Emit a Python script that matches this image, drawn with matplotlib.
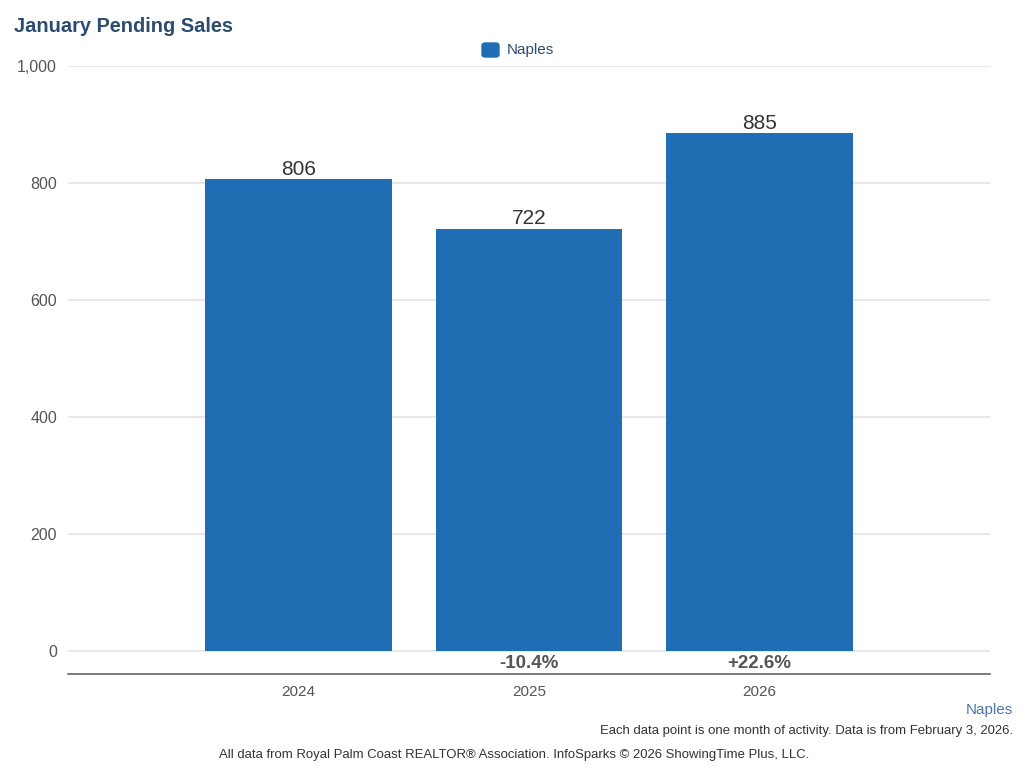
import matplotlib
matplotlib.use("Agg")
import matplotlib.pyplot as plt
from matplotlib.patches import FancyBboxPatch

plt.rcParams['font.family'] = ['Liberation Sans', 'DejaVu Sans']

years = ["2024", "2025", "2026"]
values = [806, 722, 885]
changes = ["", "-10.4%", "+22.6%"]
yticks = [0, 200, 400, 600, 800, 1000]
ytick_labels = ["0", "200", "400", "600", "800", "1,000"]

W, H = 1024, 778
fig = plt.figure(figsize=(W / 100, H / 100), dpi=100)
ax = fig.add_axes([68 / W, (H - 674) / H, (990 - 68) / W, (674 - 66) / H])

bar_color = "#1f6eb3"
x = [1, 2, 3]
ax.bar(x, values, width=0.81, color=bar_color, zorder=3)
ax.set_xlim(0, 4)
ax.set_ylim(-39.3, 1000)

for yt in yticks:
    ax.axhline(yt, color="#e4e4e4", lw=1.2, zorder=1)

ax.set_yticks(yticks)
ax.set_yticklabels(ytick_labels)
ax.set_xticks(x)
ax.set_xticklabels(years)
ax.tick_params(axis="both", length=0, labelcolor="#555555")
ax.tick_params(axis="y", pad=8, labelsize=11.5)
ax.tick_params(axis="x", pad=8, labelsize=11)

for s in ["left", "right", "top"]:
    ax.spines[s].set_visible(False)
ax.spines["bottom"].set_color("#666666")
ax.spines["bottom"].set_linewidth(1.2)

for xi, v in zip(x, values):
    ax.annotate(str(v), (xi, v), xytext=(0, 0.5), textcoords="offset points",
                ha="center", va="bottom", fontsize=15, color="#333333")
for xi, c in zip(x, changes):
    if c:
        ax.text(xi, -22, c, ha="center", va="center", fontsize=13.5,
                fontweight="bold", color="#555555")

fig.text(14 / W, 1 - 26 / H, "January Pending Sales", ha="left", va="center",
         fontsize=14.4, fontweight="bold", color="#2b4c6f")

# legend
fig.patches.append(FancyBboxPatch((482 / W, 1 - 57 / H), 17 / W, 14 / H,
                                  boxstyle="round,pad=0,rounding_size=0.003",
                                  transform=fig.transFigure, color=bar_color))
fig.text(507 / W, 1 - 50 / H, "Naples", ha="left", va="center",
         fontsize=11, color="#2b4c6f")

fig.text(1013 / W, 1 - 710 / H, "Naples", ha="right", va="center",
         fontsize=11, color="#4a78a8")
fig.text(1013 / W, 1 - 731 / H,
         "Each data point is one month of activity. Data is from February 3, 2026.",
         ha="right", va="center", fontsize=9.45, color="#333333")
fig.text(514 / W, 1 - 755 / H,
         "All data from Royal Palm Coast REALTOR® Association. InfoSparks © 2026 ShowingTime Plus, LLC.",
         ha="center", va="center", fontsize=9.45, color="#333333")

fig.savefig("out.png", dpi=100)
